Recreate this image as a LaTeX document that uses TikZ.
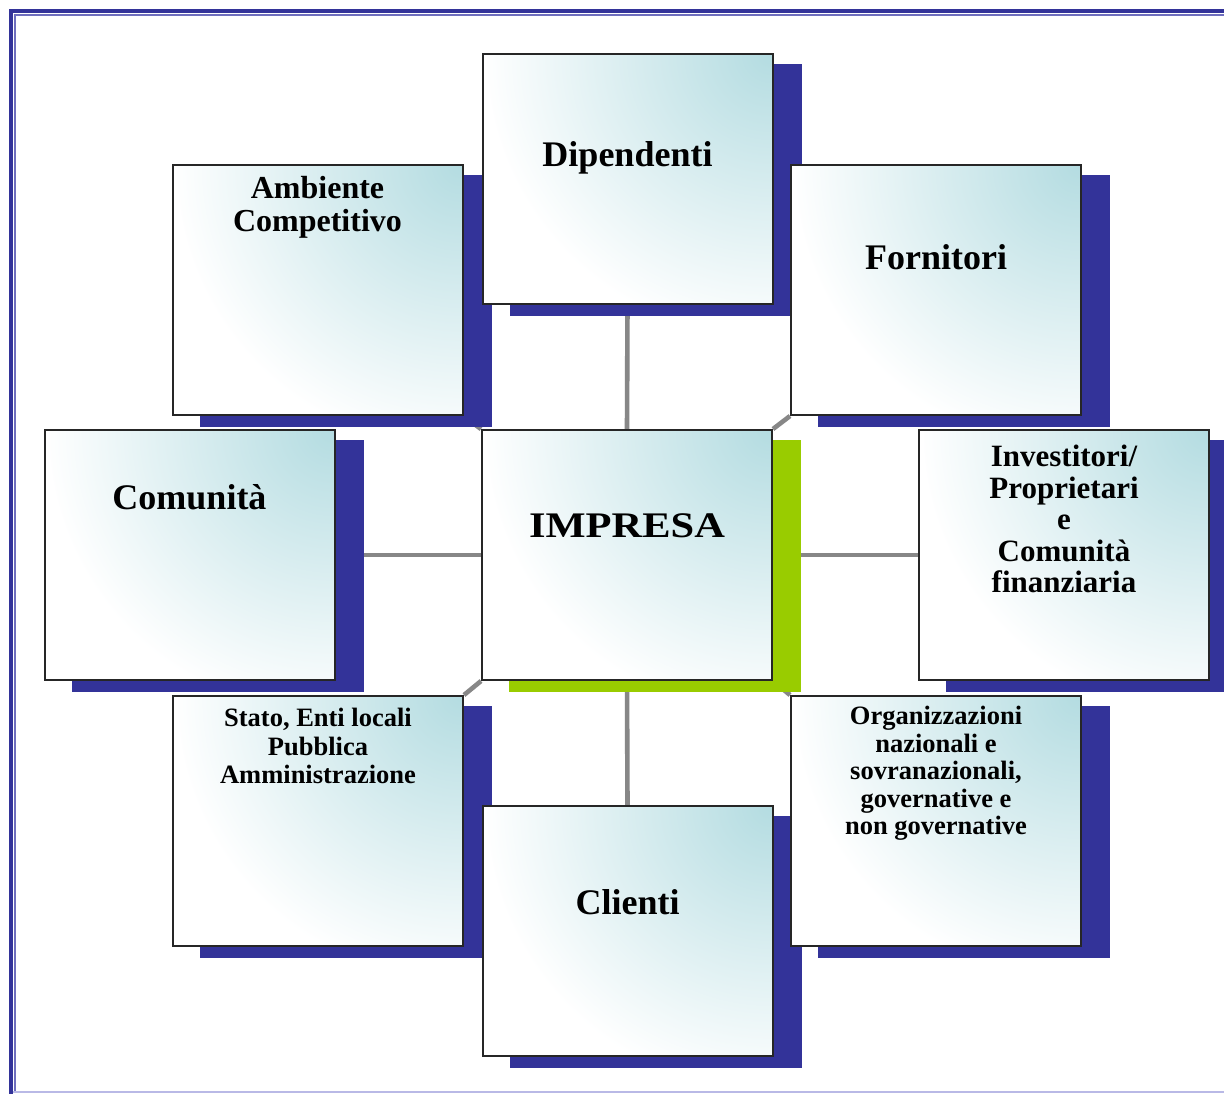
\documentclass[tikz,border=0pt]{standalone}
\usepackage{fontspec}
\setmainfont{Liberation Serif}
\usetikzlibrary{positioning}
\definecolor{shblue}{RGB}{51,51,153}
\definecolor{shgreen}{RGB}{153,204,0}
\definecolor{tealc}{RGB}{180,220,225}
\definecolor{frameblue}{RGB}{51,51,153}
\definecolor{framemid}{RGB}{110,110,190}
\definecolor{framelight}{RGB}{185,185,230}
\definecolor{connc}{RGB}{135,135,135}
\pgfdeclarelayer{bg}
\pgfdeclarelayer{shd}
\pgfsetlayers{bg,shd,main}
\tikzset{
  stakebox/.style={draw=black!85, line width=2pt, fill=white, minimum width=290pt, minimum height=250pt, inner sep=0pt,
    path picture={\shade[inner color=tealc, outer color=white] (path picture bounding box.north east) circle (285pt);}},
  lbl/.style={font=\bfseries\fontsize{36}{40}\selectfont, inner sep=0pt, anchor=base},
  mlbl/.style={align=center, inner sep=0pt, anchor=north},
  conn/.style={draw=connc, line width=4.6pt},
  shadowbox/.style={fill=#1}
}
\begin{document}
\begin{tikzpicture}[x=1pt,y=-1pt]
\useasboundingbox (0,0) rectangle (1224,1093);
\begin{pgfonlayer}{bg}
\fill[white] (0,0) rectangle (1224,1093);
\end{pgfonlayer}
% frame
\draw[line width=3.8pt, frameblue] (10.9,1100) -- (10.9,10.9) -- (1240,10.9);
\draw[line width=1.8pt, framemid] (15,1091) -- (15,15) -- (1240,15);
\draw[line width=2pt, framelight] (13,1092) -- (1240,1092);

% boxes
\node[stakebox] (imp) at (627,555) {};
\node[stakebox] (dip) at (627.5,179) {};
\node[stakebox] (forn) at (936,290) {};
\node[stakebox] (amb) at (317.5,290) {};
\node[stakebox] (com) at (189.5,555) {};
\node[stakebox] (inv) at (1064,555) {};
\node[stakebox] (stato) at (318,821) {};
\node[stakebox] (org) at (936,821) {};
\node[stakebox] (cli) at (627.5,931) {};

% shadows
\begin{pgfonlayer}{shd}
\foreach \n/\c in {imp/shgreen, dip/shblue, forn/shblue, amb/shblue, com/shblue, inv/shblue, stato/shblue, org/shblue, cli/shblue}{
  \fill[shadowbox=\c] ([xshift=28pt,yshift=-11pt]\n.south west) rectangle ([xshift=28pt,yshift=-11pt]\n.north east);
}
\end{pgfonlayer}

% connectors
\begin{pgfonlayer}{bg}
\draw[conn] (dip.south) -- (imp.north);
\draw[conn] (imp.south) -- (cli.north);
\draw[conn] (com.east) -- (imp.west);
\draw[conn] (imp.east) -- (inv.west);
\draw[conn] (imp.north east) -- (forn.south west);
\draw[conn] (imp.north west) -- (amb.south east);
\draw[conn] (imp.south west) -- (stato.north east);
\draw[conn] (imp.south east) -- (org.north west);
\end{pgfonlayer}

% labels
\node[lbl] (timp) at ([yshift=-108pt]imp.north) {\scalebox{1.18}[1]{IMPRESA}};
\node[lbl] (tdip) at ([yshift=-113pt]dip.north) {Dipendenti};
\node[lbl] (tforn) at ([yshift=-105pt]forn.north) {Fornitori};
\node[lbl] (tcom) at ([yshift=-80pt]com.north) {Comunità};
\node[lbl] (tcli) at ([yshift=-109pt]cli.north) {Clienti};
\node[mlbl, font=\bfseries\fontsize{32}{33}\selectfont] (tamb) at ([yshift=-12pt]amb.north) {Ambiente\\Competitivo};
\node[mlbl, font=\bfseries\fontsize{31}{31.5}\selectfont] (tinv) at ([yshift=-16pt]inv.north) {Investitori/\\Proprietari\\e\\Comunità\\finanziaria};
\node[mlbl, font=\bfseries\fontsize{26.5}{28.5}\selectfont] (tstato) at ([yshift=-13pt]stato.north) {Stato, Enti locali\\Pubblica\\Amministrazione};
\node[mlbl, font=\bfseries\fontsize{26.5}{27.5}\selectfont] (torg) at ([yshift=-11pt]org.north) {Organizzazioni\\nazionali e\\sovranazionali,\\governative e\\non governative};
\end{tikzpicture}
\end{document}
